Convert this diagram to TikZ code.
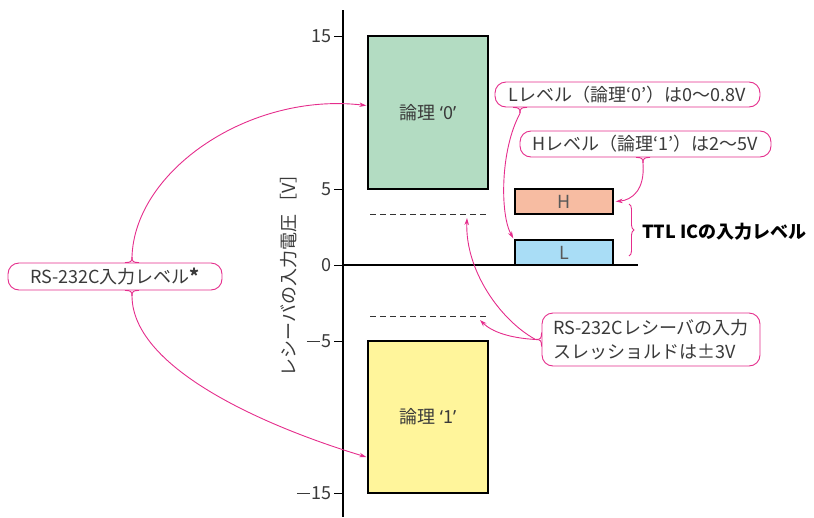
\documentclass[tikz,border=0pt]{standalone}
\usepackage{fontspec}
\setmainfont{Noto Sans CJK JP}
\newfontfamily\lat{Noto Sans}
\usetikzlibrary{arrows.meta,calc,decorations.pathreplacing}
\definecolor{mag}{HTML}{E52D8C}
\definecolor{txt}{HTML}{3A3A3A}
\definecolor{grn}{HTML}{B3DCC2}
\definecolor{ylw}{HTML}{FFF59B}
\definecolor{slm}{HTML}{F7BCA2}
\definecolor{blu}{HTML}{A9DDF6}
\newcommand\mymin{\rule[5.6pt]{13pt}{1.1pt}\kern2pt}
\newcommand\myjunction[3]{%
  \draw[con] ($(#1)+#2$) .. controls ($(#1)+0.15*#2$) and ($(#1)+0.15*#3$) .. ($(#1)+#3$);
  \draw[con] ($(#1)-#2$) .. controls ($(#1)-0.15*#2$) and ($(#1)+0.15*#3$) .. ($(#1)+#3$);}
\begin{document}
\begin{tikzpicture}[x=1pt,y=-1pt,
  lbl/.style={font=\fontsize{18}{22}\selectfont, text=txt},
  callout/.style={draw=mag, line width=0.9pt, rounded corners=11pt, inner sep=0pt,
    fill=white, font=\fontsize{18}{24}\selectfont, text=txt},
  con/.style={draw=mag, line width=0.9pt},
  arr/.style={con, -{Stealth[length=7pt,width=4.5pt]}},
  box/.style={draw=black, line width=1.4pt, inner sep=0pt, font=\fontsize{18}{22}\selectfont, text=txt},
  dline/.style={draw=black!80, line width=0.8pt, dash pattern=on 6pt off 4pt},
  tick/.style={line width=1pt}]
\useasboundingbox (0,0) rectangle (814,517);
% axis
\draw[line width=1.2pt] (343,10) -- (343,517);
\foreach \yy/\tt in {36/15, 189/5, 265/0, 341/{\mymin 5}, 493/{\mymin 15}}{
  \draw[tick] (334,\yy) -- (343,\yy);
  \node[lbl, anchor=east, inner sep=0pt] at (332,\yy) {\tt};
}
\draw[line width=1.2pt] (343,265) -- (638,265);
\node[lbl, rotate=90] (ylab) at (289,271) {レシーバの入力電圧\kern3pt［V］};
% boxes
\node[box, fill=grn, minimum width=120pt, minimum height=153pt] (g0) at (428,112.5) {論理 {\lat‘}0{\lat’}};
\node[box, fill=ylw, minimum width=120pt, minimum height=152pt] (y1) at (428,417) {論理 {\lat‘}1{\lat’}};
\node[box, fill=slm, minimum width=98pt, minimum height=25pt, text=black!65] (bH) at (564,201.5) {H};
\node[box, fill=blu, minimum width=98pt, minimum height=25pt, text=black!65] (bL) at (564,252.5) {L};
% dashed threshold lines
\draw[dline] (370,214) -- (488,214);
\draw[dline] (370,316) -- (488,316);
\coordinate (d1) at (467,218);
\coordinate (d2) at (480,320);
% brace and TTL label
\draw[mag, line width=0.9pt, decorate, decoration={brace, amplitude=5pt}] (629,204) -- (629,256);
\node[anchor=west, inner sep=0pt, font=\fontsize{18}{20}\selectfont\bfseries] (ttl) at (642,232) {TTL ICの入力レベル};
% callouts
\node[callout, minimum width=265pt, minimum height=25pt] (cL) at (627.5,94.5) {Lレベル（論理‘0’）は0～0.8V};
\node[callout, minimum width=251pt, minimum height=26pt] (cH) at (645.5,144) {Hレベル（論理‘1’）は2～5V};
\node[callout, minimum width=214pt, minimum height=27pt] (cRS) at (115,276.5) {RS-232C入力レベル\raisebox{0.05ex}{\fontsize{19}{19}\selectfont\textbf{*}}};
\node[callout, minimum width=218pt, minimum height=53pt, align=left] (cT) at (651,339.5) {RS-232Cレシーバの入力\\スレッショルドは±3V};
% junctions
\coordinate (rsT) at ($(cRS.north)+(17,0)$);
\coordinate (rsB) at ($(cRS.south)+(17,0)$);
\coordinate (lJ) at ($(cL.south)+(-107.5,0)$);
\coordinate (hJ) at ($(cH.south)+(-2.5,0)$);
\coordinate (tJ) at (cT.west);
\myjunction{rsT}{(7,0)}{(0,-6)}
\myjunction{rsB}{(7,0)}{(0,6)}
\myjunction{lJ}{(7,0)}{(0,6)}
\myjunction{hJ}{(7,0)}{(0,6)}
\myjunction{tJ}{(0,7)}{(-6,0)}
% connectors
\draw[arr] ($(rsT)+(0,-6)$) .. controls (135,170) and (250,92) .. ($(g0.west)+(-1,-7)$);
\draw[arr] ($(rsB)+(0,6)$) .. controls (133,370) and (270,428) .. ($(y1.west)+(-1,40)$);
\draw[arr] ($(lJ)+(0,6)$) .. controls (500,150) and (500,215) .. ($(bL.north west)+(-1,-1)$);
\draw[arr] ($(hJ)+(0,6)$) .. controls (645,190) and (632,200) .. ($(bH.east)+(2,0)$);
\draw[arr] ($(tJ)+(-6,0)$) .. controls (500,320) and (465,270) .. (d1);
\draw[arr] ($(tJ)+(-6,0)$) .. controls (510,338) and (492,332) .. (d2);
\end{tikzpicture}
\end{document}
